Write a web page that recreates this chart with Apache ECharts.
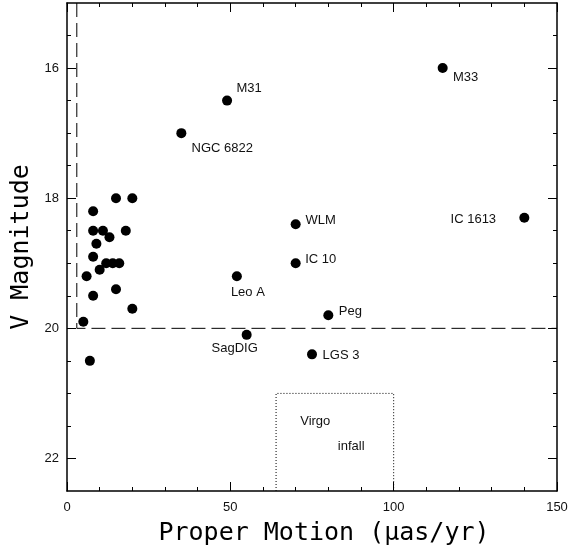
<!DOCTYPE html>
<html>
<head>
<meta charset="utf-8">
<script src="https://cdn.jsdelivr.net/npm/echarts@6/dist/echarts.min.js"></script>
<style>
    html, body { margin: 0; padding: 0; background: #fff; }
    #chart { width: 569px; height: 556px; }
</style>
</head>
<body>
<div id="chart"></div>
<script>
    // unlabelled dwarfs near the origin
    var dwarfPM = [15, 20, 8, 8, 11, 18, 13, 9, 8, 12, 14, 16, 10, 6, 15, 8, 20, 5, 7];
    var dwarfV  = [18.0, 18.0, 18.2, 18.5, 18.5, 18.5, 18.6, 18.7, 18.9, 19.0, 19.0, 19.0, 19.1, 19.2, 19.4, 19.5, 19.7, 19.9, 20.5];

    // named galaxies
    var galaxyNames = ['M33', 'M31', 'NGC 6822', 'WLM', 'IC 1613', 'IC 10', 'Leo A', 'Peg', 'SagDIG', 'LGS 3'];
    var galaxyPM    = [115, 49, 35, 70, 140, 70, 52, 80, 55, 75];
    var galaxyV     = [16.0, 16.5, 17.0, 18.4, 18.3, 19.0, 19.2, 19.8, 20.1, 20.4];

    // limits and the Virgo infall box
    var limitPM = 3;
    var limitV = 20;
    var virgoPM = [64, 100];
    var virgoV = 21;
    var virgoWords = ['Virgo', 'infall'];
    var virgoWordPM = [76, 87];
    var virgoWordV = [21.43, 21.82];

    // axes
    var xMin = 0, xMax = 150;
    var yMin = 15, yMax = 22.5;
    var yMajor = [16, 18, 20, 22];
    var yMinor = [15.5, 16.5, 17, 17.5, 18.5, 19, 19.5, 20.5, 21, 21.5];

    // label placement (px from dot centre)
    var labelOffset = {
        'M33': [23, 9], 'M31': [22, -12], 'NGC 6822': [41, 15], 'WLM': [25, -4],
        'IC 1613': [-51, 2], 'IC 10': [25, -4], 'Leo A': [11, 16], 'Peg': [22, -4],
        'SagDIG': [-12, 14], 'LGS 3': [29, 1]
    };

    var black = '#000';
    var textFont = 'Liberation Sans';

    function xAxisCfg(pos, showLabel) {
        return {
            type: 'value', position: pos, min: xMin, max: xMax, interval: 50,
            axisLine: { show: true, onZero: false, lineStyle: { color: black, width: 1.5 } },
            axisTick: { inside: true, length: 9, lineStyle: { color: black } },
            minorTick: { show: true, splitNumber: 5, length: 4, lineStyle: { color: black } },
            splitLine: { show: false },
            axisLabel: { show: showLabel, color: '#111', fontFamily: textFont, fontSize: 13, margin: 10 },
            name: showLabel ? 'Proper Motion (\u03bcas/yr)' : '',
            nameLocation: 'middle', nameGap: 30,
            nameTextStyle: { fontFamily: 'DejaVu Sans Mono', fontSize: 25, color: black, padding: [0, 0, 0, 24] }
        };
    }

    function yAxisCfg(pos, ticks, len, main) {
        return {
            type: 'value', position: pos, inverse: true, min: yMin, max: yMax,
            axisLine: { show: main, onZero: false, lineStyle: { color: black, width: 1.5 } },
            axisTick: { show: true, inside: true, length: len, customValues: ticks, lineStyle: { color: black } },
            splitLine: { show: false },
            axisLabel: {
                show: main && pos === 'left', customValues: ticks,
                color: '#111', fontFamily: textFont, fontSize: 13, margin: 8
            },
            name: main && pos === 'left' ? 'V Magnitude' : '',
            nameLocation: 'middle', nameGap: 33,
            nameTextStyle: { fontFamily: 'DejaVu Sans Mono', fontSize: 25, color: black }
        };
    }

    var chart = echarts.init(document.getElementById('chart'));

    var dwarfData = dwarfPM.map(function (p, i) { return [p, dwarfV[i]]; });
    var galaxyData = galaxyNames.map(function (n, i) {
        return { name: n, value: [galaxyPM[i], galaxyV[i]], label: { offset: labelOffset[n] } };
    });
    var virgoText = virgoWords.map(function (w, i) {
        return { name: w, value: [virgoWordPM[i], virgoWordV[i]] };
    });

    chart.setOption({
        animation: false,
        backgroundColor: '#fff',
        grid: { left: 67, right: 12, top: 3, bottom: 65, outerBoundsMode: 'none' },
        xAxis: [xAxisCfg('bottom', true), xAxisCfg('top', false)],
        yAxis: [
            yAxisCfg('left', yMajor, 9, true),
            yAxisCfg('left', yMinor, 4, false),
            yAxisCfg('right', yMajor, 9, true),
            yAxisCfg('right', yMinor, 4, false)
        ],
        series: [
            {
                // completeness limits
                type: 'line', silent: true, symbol: 'none',
                data: [[limitPM, yMin], [limitPM, limitV], [xMax, limitV]],
                lineStyle: { color: black, width: 1, type: [14, 6] }
            },
            {
                // Virgo infall region
                type: 'line', silent: true, symbol: 'none',
                data: [[virgoPM[0], yMax], [virgoPM[0], virgoV], [virgoPM[1], virgoV], [virgoPM[1], yMax]],
                lineStyle: { color: black, width: 1, type: [1, 2] }
            },
            {
                type: 'scatter', symbolSize: 10, itemStyle: { color: black, opacity: 1 },
                data: dwarfData
            },
            {
                type: 'scatter', symbolSize: 10, itemStyle: { color: black, opacity: 1 },
                data: galaxyData,
                label: {
                    show: true, position: 'inside', formatter: '{b}',
                    color: '#111', fontFamily: textFont, fontSize: 13
                }
            },
            {
                type: 'scatter', symbolSize: 0, silent: true,
                itemStyle: { color: black, opacity: 1 },
                data: virgoText,
                label: {
                    show: true, position: 'inside', formatter: '{b}',
                    color: '#111', fontFamily: textFont, fontSize: 13
                }
            }
        ]
    });
</script>
</body>
</html>
